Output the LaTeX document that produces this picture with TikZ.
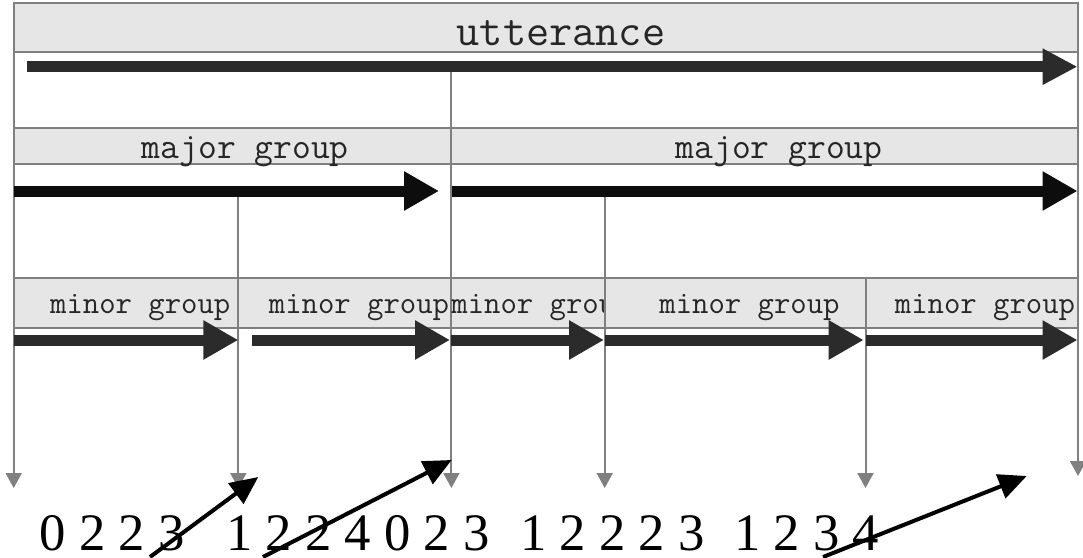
\documentclass[tikz,border=0pt]{standalone}
\usepackage{fontspec}
\setmainfont{Liberation Serif}
\usetikzlibrary{arrows.meta}
\definecolor{linegray}{HTML}{808080}
\definecolor{headfill}{HTML}{E6E6E6}
\definecolor{arrdark}{HTML}{2B2B2B}
\definecolor{arrblack}{HTML}{0D0D0D}
\begin{document}
\begin{tikzpicture}[x=1pt,y=-1pt,
  header/.style={draw=linegray, fill=headfill, line width=2pt},
  tick/.style={draw=linegray, line width=2pt, -{Triangle[length=15pt,width=16pt]}},
  flowdark/.style={draw=arrdark, line width=11pt, -{Triangle[length=35pt,width=34pt]}},
  flowblack/.style={draw=arrblack, line width=11pt, -{Triangle[length=35pt,width=37pt]}},
  flowminor/.style={draw=arrdark, line width=11pt, -{Triangle[length=35pt,width=37pt]}},
  pointer/.style={draw=black, line width=4pt, -{Triangle[length=28pt,width=25pt]}},
  lbl/.style={inner sep=0pt, anchor=base, text=black!85},
  utt/.style={lbl, font=\ttfamily\fontsize{45}{50}\selectfont},
  maj/.style={lbl, font=\ttfamily\fontsize{36.5}{42}\selectfont},
  mino/.style={lbl, font=\ttfamily\fontsize{31.8}{36}\selectfont},
  digits/.style={inner sep=0pt, anchor=base west, font=\fontsize{52.7}{60}\selectfont}
]
\useasboundingbox[fill=white] (0,0) rectangle (1083,557);

% tick lines (boundaries)
\coordinate (t0s) at (13.7,3.3);   \coordinate (t0e) at (13.7,488);
\coordinate (t1s) at (238.3,191);  \coordinate (t1e) at (238.3,488);
\coordinate (t2s) at (451.4,65);   \coordinate (t2e) at (451.4,488);
\coordinate (t3s) at (604.7,191);  \coordinate (t3e) at (604.7,488);
\coordinate (t4s) at (865.5,278.3);\coordinate (t4e) at (865.5,488);
\coordinate (t5s) at (1078,3.3);   \coordinate (t5e) at (1078,476);
\draw[tick] (t0s) -- (t0e);
\draw[tick] (t1s) -- (t1e);
\draw[tick] (t2s) -- (t2e);
\draw[tick] (t3s) -- (t3e);
\draw[tick] (t4s) -- (t4e);
\draw[tick] (t5s) -- (t5e);

% utterance
\draw[header] (13.7,3.3) rectangle (1078,51.7);
\node[utt] (uttl) at (561,45) {utterance};

% major groups
\draw[header] (13.7,128.3) rectangle (451.4,164);
\draw[header] (451.4,128.3) rectangle (1078,164);
\node[maj] (maj1) at (245.3,158.3) {major group};
\node[maj] (maj2) at (779,158.3) {major group};

% minor groups
\draw[header] (13.7,278.3) rectangle (238.3,328.3);
\node[mino] (min1) at (140.3,313.3) {minor group};
\draw[header] (238.3,278.3) rectangle (451.4,328.3);
\node[mino] (min2) at (359,313.3) {minor group};
\draw[header] (451.4,278.3) rectangle (604.7,328.3);
\node[mino] (min3) at (541.5,313.3) {minor group};
\draw[header] (604.7,278.3) rectangle (865.5,328.3);
\node[mino] (min4) at (749.5,313.3) {minor group};
\draw[header] (865.5,278.3) rectangle (1078,328.3);
\node[mino] (min5) at (985,313.3) {minor group};

% flow arrows
\coordinate (ua0) at (26.7,66.7);  \coordinate (ua1) at (1077.5,66.7);
\draw[flowdark] (ua0) -- (ua1);
\coordinate (ma0) at (13.7,191);   \coordinate (ma1) at (439,191);
\coordinate (mb0) at (452,191);    \coordinate (mb1) at (1077.5,191);
\draw[flowblack] (ma0) -- (ma1);
\draw[flowblack] (mb0) -- (mb1);
\coordinate (na0) at (13.7,340);   \coordinate (na1) at (238.3,340);
\coordinate (nb0) at (252.4,340);  \coordinate (nb1) at (450,340);
\coordinate (nc0) at (451.4,340);  \coordinate (nc1) at (604,340);
\coordinate (nd0) at (604.7,340);  \coordinate (nd1) at (863.7,340);
\coordinate (ne0) at (865.5,340);  \coordinate (ne1) at (1077.5,340);
\draw[flowminor] (na0) -- (na1);
\draw[flowminor] (nb0) -- (nb1);
\draw[flowminor] (nc0) -- (nc1);
\draw[flowminor] (nd0) -- (nd1);
\draw[flowminor] (ne0) -- (ne1);

% digits
\node[digits] (g1) at (39.4,550) {0 2 2 3};
\node[digits] (g2) at (225.8,550) {1 2 2 4 0 2 3};
\node[digits] (g3) at (520,550) {1 2 2 2 3};
\node[digits] (g4) at (734.2,550) {1 2 3 4};

% pointers
\coordinate (p1s) at (150,557);  \coordinate (p1e) at (258.3,477);
\coordinate (p2s) at (263,557);  \coordinate (p2e) at (451.7,460);
\coordinate (p3s) at (823,557);  \coordinate (p3e) at (1026.7,476);
\draw[pointer] (p1s) -- (p1e);
\draw[pointer] (p2s) -- (p2e);
\draw[pointer] (p3s) -- (p3e);
\end{tikzpicture}
\end{document}
